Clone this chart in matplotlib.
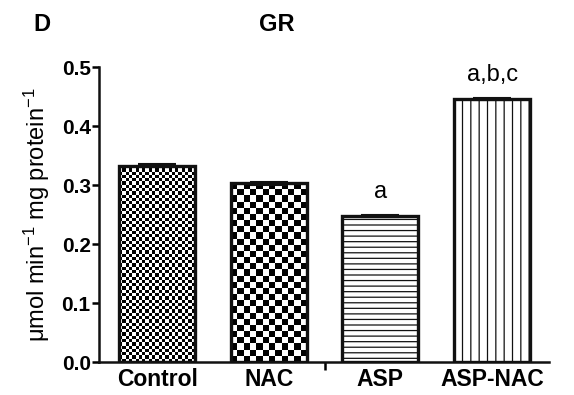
import numpy as np
import matplotlib
matplotlib.use("Agg")
import matplotlib.pyplot as plt

plt.rcParams['font.family'] = ['Liberation Sans', 'DejaVu Sans']
plt.rcParams['mathtext.fontset'] = 'custom'
plt.rcParams['mathtext.rm'] = 'Liberation Sans'
plt.rcParams['mathtext.default'] = 'regular'
plt.rcParams['hatch.linewidth'] = 0.9

categories = ["Control", "NAC", "ASP", "ASP-NAC"]
values = [0.333, 0.303, 0.248, 0.446]
errors = [0.002, 0.002, 0.002, 0.002]
letters = ["", "", "a", "a,b,c"]
yticks = [0.0, 0.1, 0.2, 0.3, 0.4, 0.5]

fig = plt.figure(figsize=(5.74, 3.95), dpi=100)
ax = fig.add_axes([0.1725, 0.0835, 0.784, 0.7465])

x = np.arange(len(categories))
width = 0.68
XL = (-0.52, 3.51)
bars = ax.bar(x, values, width=width, facecolor='none', edgecolor='#111111',
              linewidth=2.4, zorder=3)
ax.set_xlim(*XL)
ax.set_ylim(0, 0.5)
fig.canvas.draw()

def checker(ax, bar, cell_px):
    bx, by = bar.get_x(), bar.get_y()
    bw, bh = bar.get_width(), bar.get_height()
    p0 = ax.transData.transform((bx, by))
    p1 = ax.transData.transform((bx + bw, by + bh))
    nx = max(1, int(round((p1[0] - p0[0]) / cell_px)))
    ny = max(1, int(round((p1[1] - p0[1]) / cell_px)))
    img = (np.indices((ny, nx)).sum(axis=0) % 2).astype(float)
    im = ax.imshow(img, extent=(bx, bx + bw, by, by + bh), cmap='gray',
                   vmin=0, vmax=1, interpolation='nearest', aspect='auto', zorder=2)
    im.set_clip_path(bar)

checker(ax, bars[0], 3.3)
checker(ax, bars[1], 6.2)
bars[2].set_hatch('---')
bars[3].set_hatch('||')
ax.set_xlim(*XL)
ax.set_ylim(0, 0.5)

ax.errorbar(x, values, yerr=errors, fmt='none', ecolor='#111111', elinewidth=1.5,
            capsize=14, capthick=1.5, zorder=4)

for xi, v, e, t in zip(x, values, errors, letters):
    if t:
        ax.text(xi, v + e + 0.02, t, ha='center', va='bottom', fontsize=17)

for s in ['top', 'right']:
    ax.spines[s].set_visible(False)
for s in ['left', 'bottom']:
    ax.spines[s].set_linewidth(1.8)
    ax.spines[s].set_color('#111111')

ax.set_yticks(yticks)
ax.set_yticklabels([f"{t:.1f}" for t in yticks], fontsize=15, fontweight='bold')
ax.tick_params(axis='y', direction='out', length=5, width=1.8, pad=1)
ax.set_xticks(x)
ax.set_xticklabels(categories, fontsize=16.5, fontweight='bold')
ax.tick_params(axis='x', which='major', length=0, pad=4)
ax.set_xticks([1.5], minor=True)
ax.tick_params(axis='x', which='minor', direction='out', length=6, width=1.8)

ax.set_ylabel(r"$\mu$mol min$^{-1}$ mg protein$^{-1}$", fontsize=17, labelpad=7)

fig.text(0.073, 0.939, "D", fontsize=17, fontweight='bold', ha='center', va='center')
fig.text(0.482, 0.939, "GR", fontsize=17, fontweight='bold', ha='center', va='center')

fig.savefig("out.png", dpi=100)
